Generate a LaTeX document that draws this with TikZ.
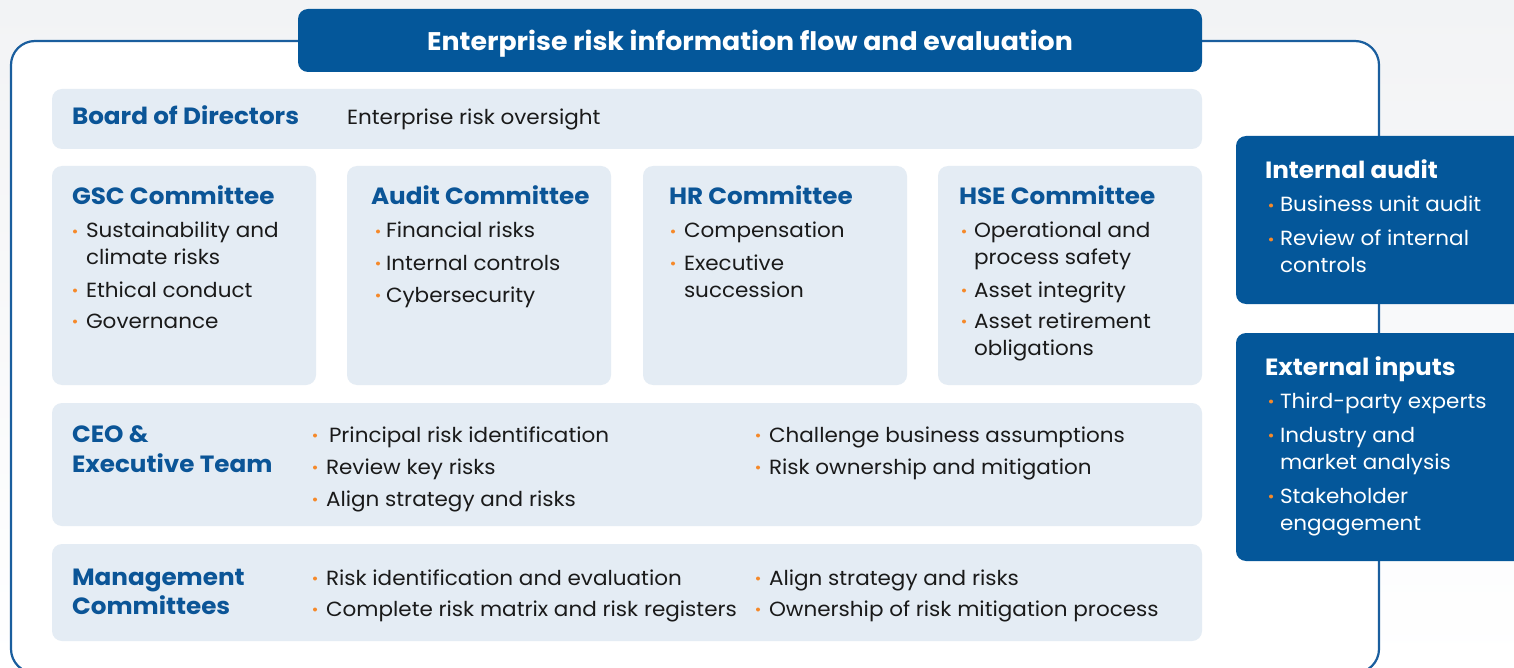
\documentclass[tikz,border=0pt]{standalone}
\usepackage{fontspec}
\setmainfont{Poppins}[FakeStretch=1.05]

\definecolor{navy}{HTML}{04579A}
\definecolor{framec}{HTML}{1A5E9E}
\definecolor{panel}{HTML}{E4ECF4}
\definecolor{headc}{HTML}{0B5597}
\definecolor{bulc}{HTML}{F5892A}
\definecolor{inkc}{HTML}{1A1A1A}
\definecolor{bgtop}{HTML}{F2F3F5}

\tikzset{
  panelbox/.style={fill=panel, rounded corners=10pt},
  darkbox/.style={fill=navy, rounded corners=10pt},
  head/.style={anchor=base west, inner sep=0pt, outer sep=0pt,
    font=\fontsize{23.5}{30}\selectfont\bfseries, text=headc},
  whitehead/.style={head, text=white},
  body/.style={anchor=base west, inner sep=0pt, outer sep=0pt,
    font=\fontsize{20.5}{27}\selectfont, text=inkc},
  whitebody/.style={body, text=white},
  bulletdot/.style={fill=bulc},
}

% bullet item: [style] name, x of dot, x of text, baseline y, lines
\newcommand\bitem[6][body]{%
  \fill[bulletdot] (#3,#5-6.5) circle (2pt);
  \node[#1] (#2) at (#4,#5) {\begin{tabular}[t]{@{}l@{}}#6\end{tabular}};}

\begin{document}
\begin{tikzpicture}[x=1pt,y=-1pt]
  \useasboundingbox (0,0) rectangle (1514,668);
  \shade[top color=bgtop, bottom color=white] (0,0) rectangle (1514,668);

  % outer frame
  \draw[framec, line width=2.2pt, fill=white, rounded corners=24pt]
    (11,41) rectangle (1379,673);

  % title banner
  \path[darkbox] (298,9) rectangle (1202,72);
  \node[anchor=base, inner sep=0pt, font=\fontsize{25.5}{30}\selectfont\bfseries,
    text=white] (title) at (750,51) {Enterprise risk information flow and evaluation};

  % board row
  \path[panelbox] (52,89) rectangle (1202,149);
  \node[head] (board) at (72,125) {Board of Directors};
  \node[body] (boardtxt) at (347,125) {Enterprise risk oversight};

  % committee panels
  \path[panelbox] (52,166) rectangle (316,385);
  \path[panelbox] (347,166) rectangle (611,385);
  \path[panelbox] (643,166) rectangle (907,385);
  \path[panelbox] (938,166) rectangle (1202,385);

  \node[head] (gsc) at (72,205) {GSC Committee};
  \bitem{gsc1}{75}{86}{238}{Sustainability and\\climate risks}
  \bitem{gsc2}{75}{86}{297}{Ethical conduct}
  \bitem{gsc3}{75}{86}{328}{Governance}

  \node[head] (audit) at (371,205) {Audit Committee};
  \bitem{aud1}{378}{386}{238}{Financial risks}
  \bitem{aud2}{378}{386}{270}{Internal controls}
  \bitem{aud3}{378}{386}{302}{Cybersecurity}

  \node[head] (hr) at (669,205) {HR Committee};
  \bitem{hr1}{673}{684}{238}{Compensation}
  \bitem{hr2}{673}{684}{270}{Executive\\succession}

  \node[head] (hse) at (959,205) {HSE Committee};
  \bitem{hse1}{964}{974}{238}{Operational and\\process safety}
  \bitem{hse2}{964}{974}{297}{Asset integrity}
  \bitem{hse3}{964}{974}{328}{Asset retirement\\obligations}

  % CEO row
  \path[panelbox] (52,403) rectangle (1202,526);
  \node[head] (ceo) at (72,442) {CEO \&};
  \node[head] (exec) at (72,472) {Executive Team};
  \bitem{ceo1}{315}{329}{442}{Principal risk identification}
  \bitem{ceo2}{315}{326}{474}{Review key risks}
  \bitem{ceo3}{315}{326}{506}{Align strategy and risks}
  \bitem{ceo4}{758}{769}{442}{Challenge business assumptions}
  \bitem{ceo5}{758}{769}{474}{Risk ownership and mitigation}

  % management row
  \path[panelbox] (52,544) rectangle (1202,641);
  \node[head] (mgmt) at (72,585) {Management};
  \node[head] (comm) at (72,614) {Committees};
  \bitem{mg1}{315}{326}{585}{Risk identification and evaluation}
  \bitem{mg2}{315}{326}{616}{Complete risk matrix and risk registers}
  \bitem{mg3}{758}{769}{585}{Align strategy and risks}
  \bitem{mg4}{758}{769}{616}{Ownership of risk mitigation process}

  % side panels
  \path[darkbox] (1236,136) rectangle (1540,304);
  \node[whitehead] (ia) at (1265,179) {Internal audit};
  \bitem[whitebody]{ia1}{1271}{1280}{212}{Business unit audit}
  \bitem[whitebody]{ia2}{1271}{1280}{246}{Review of internal\\controls}

  \path[darkbox] (1236,333) rectangle (1540,561);
  \node[whitehead] (ext) at (1265,375) {External inputs};
  \bitem[whitebody]{ex1}{1271}{1280}{408}{Third-party experts}
  \bitem[whitebody]{ex2}{1271}{1280}{442}{Industry and\\market analysis}
  \bitem[whitebody]{ex3}{1271}{1280}{503}{Stakeholder\\engagement}
\end{tikzpicture}
\end{document}
